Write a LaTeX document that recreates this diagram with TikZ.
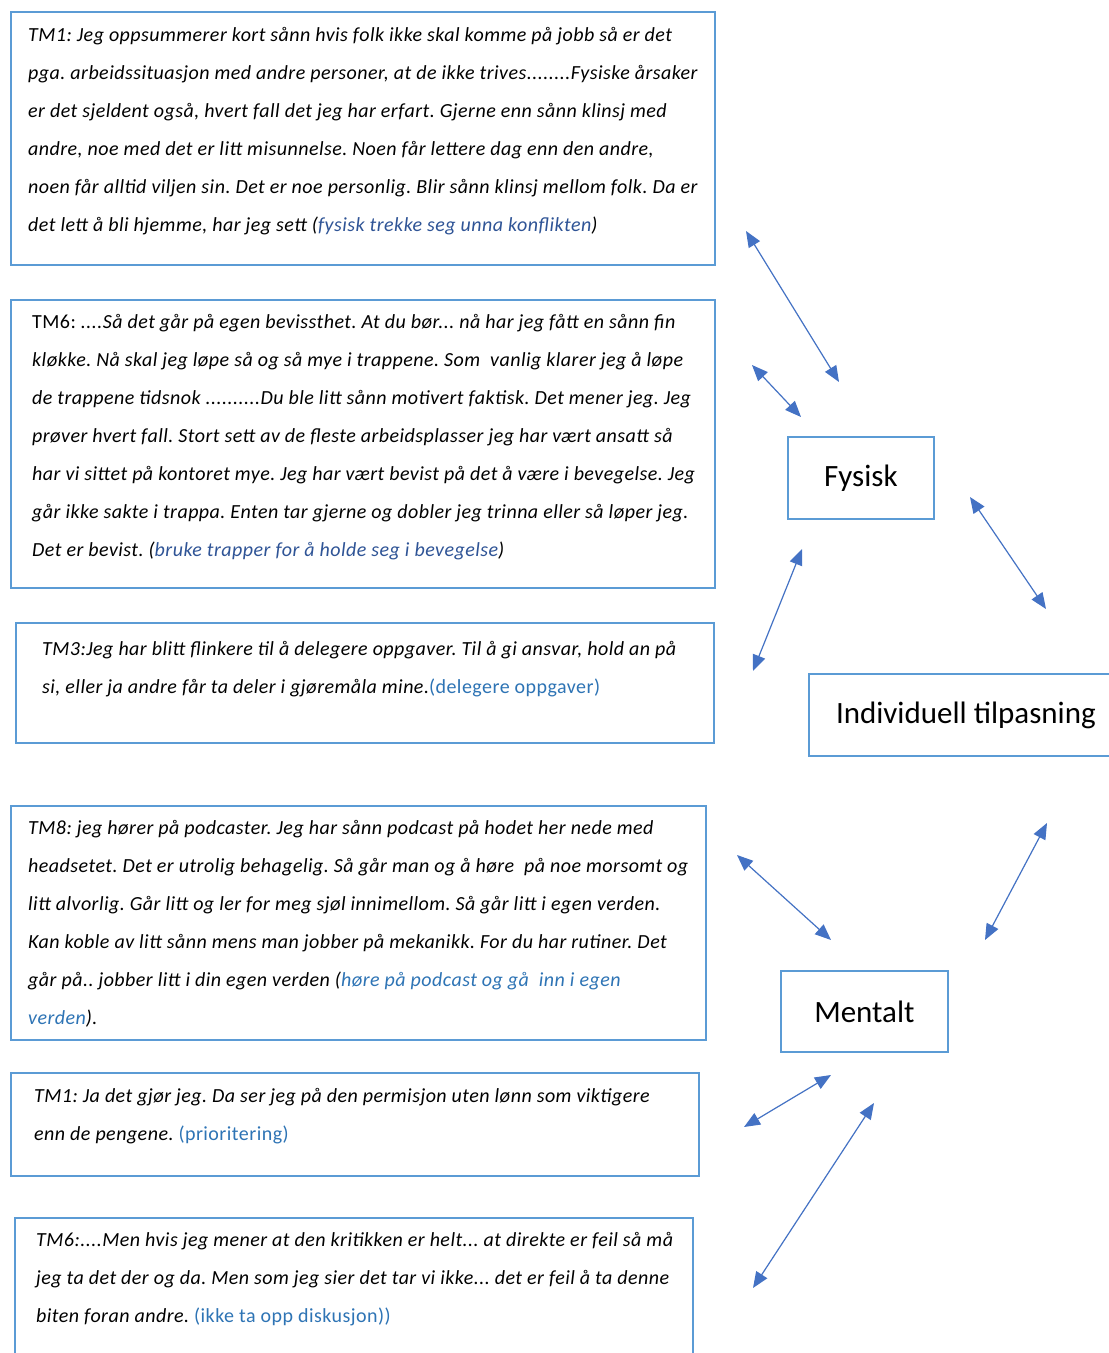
\documentclass[tikz,border=0pt]{standalone}
\usepackage{fontspec}
\setmainfont{Carlito}
\usetikzlibrary{arrows.meta}
\definecolor{boxblue}{RGB}{91,155,213}
\definecolor{arrblue}{RGB}{68,114,196}
\definecolor{darkblue}{RGB}{47,84,150}
\definecolor{midblue}{RGB}{46,116,181}
\frenchspacing
\newcommand\mylines[1]{\vtop{\baselineskip=38pt\lineskiplimit=-100pt\halign{##\hfil\cr#1\crcr}}}
\newcommand\db[1]{\textcolor{darkblue}{#1}}
\newcommand\mb[1]{\textcolor{midblue}{#1}}
\begin{document}
\begin{tikzpicture}[x=1pt,y=-1pt,
  box/.style={draw=boxblue,line width=1.8pt,inner sep=0pt,anchor=north west},
  body/.style={inner sep=0pt,anchor=base west,font=\fontsize{20}{38}\selectfont\addfontfeature{LetterSpace=2.3}\itshape},
  lbl/.style={font=\fontsize{31}{36}\selectfont},
  dbl/.style={draw=arrblue,line width=1.2pt,{Triangle[length=16pt,width=13pt]}-{Triangle[length=16pt,width=13pt]}}]
\clip (0,0) rectangle (1109,1353);
\fill[white] (0,0) rectangle (1109,1353);

% quote boxes
\node[box,minimum width=704pt,minimum height=253pt] (b1) at (10,11) {};
\node[box,minimum width=704pt,minimum height=288pt] (b2) at (10,299) {};
\node[box,minimum width=698pt,minimum height=120pt] (b3) at (15,622) {};
\node[box,minimum width=695pt,minimum height=234pt] (b4) at (10,805) {};
\node[box,minimum width=688pt,minimum height=103pt] (b5) at (10,1072) {};
\node[box,minimum width=678pt,minimum height=160pt] (b6) at (14,1217) {};

\node[body] (t1) at (28,41) {\mylines{%
TM1: Jeg oppsummerer kort sånn hvis folk ikke skal komme på jobb så er det\cr
pga. arbeidssituasjon med andre personer, at de ikke trives........Fysiske årsaker\cr
er det sjeldent også, hvert fall det jeg har erfart. Gjerne enn sånn klinsj med\cr
andre, noe med det er litt misunnelse. Noen får lettere dag enn den andre,\cr
noen får alltid viljen sin. Det er noe personlig. Blir sånn klinsj mellom folk. Da er\cr
det lett å bli hjemme, har jeg sett (\db{fysisk trekke seg unna konflikten})}};

\node[body] (t2) at (32,328) {\mylines{%
{\upshape TM6: }....Så det går på egen bevissthet. At du bør... nå har jeg fått en sånn fin\cr
kløkke. Nå skal jeg løpe så og så mye i trappene. Som\ \ vanlig klarer jeg å løpe\cr
de trappene tidsnok ..........Du ble litt sånn motivert faktisk. Det mener jeg. Jeg\cr
prøver hvert fall. Stort sett av de fleste arbeidsplasser jeg har vært ansatt så\cr
har vi sittet på kontoret mye. Jeg har vært bevist på det å være i bevegelse. Jeg\cr
går ikke sakte i trappa. Enten tar gjerne og dobler jeg trinna eller så løper jeg.\cr
Det er bevist. (\db{bruke trapper for å holde seg i bevegelse})}};

\node[body] (t3) at (42,655) {\mylines{%
TM3:Jeg har blitt flinkere til å delegere oppgaver. Til å gi ansvar, hold an på\cr
si, eller ja andre får ta deler i gjøremåla mine.\mb{\upshape(delegere oppgaver)}}};

\node[body] (t4) at (28,834) {\mylines{%
TM8: jeg hører på podcaster. Jeg har sånn podcast på hodet her nede med\cr
headsetet. Det er utrolig behagelig. Så går man og å høre\ \ på noe morsomt og\cr
litt alvorlig. Går litt og ler for meg sjøl innimellom. Så går litt i egen verden.\cr
Kan koble av litt sånn mens man jobber på mekanikk. For du har rutiner. Det\cr
går på.. jobber litt i din egen verden (\mb{høre på podcast og gå\ \ inn i egen}\cr
\mb{verden}).}};

\node[body] (t5) at (34,1102) {\mylines{%
TM1: Ja det gjør jeg. Da ser jeg på den permisjon uten lønn som viktigere\cr
enn de pengene. \mb{\upshape(prioritering)}}};

\node[body] (t6) at (36,1246) {\mylines{%
TM6:....Men hvis jeg mener at den kritikken er helt... at direkte er feil så må\cr
jeg ta det der og da. Men som jeg sier det tar vi ikke... det er feil å ta denne\cr
biten foran andre. \mb{\upshape(ikke ta opp diskusjon))}}};

% category boxes
\node[box,lbl,minimum width=146pt,minimum height=82pt] (fys) at (787,436) {Fysisk};
\node[box,lbl,minimum width=314pt,minimum height=82pt] (ind) at (808,673) {Individuell tilpasning};
\node[box,lbl,minimum width=167pt,minimum height=81pt] (men) at (780,970) {Mentalt};

% arrow end points
\coordinate (a1s) at (746,231);  \coordinate (a1e) at (839,382);
\coordinate (a2s) at (752,365);  \coordinate (a2e) at (801,417);
\coordinate (a3s) at (970,497);  \coordinate (a3e) at (1046,609);
\coordinate (a4s) at (802,549);  \coordinate (a4e) at (753,671);
\coordinate (a5s) at (737,855);  \coordinate (a5e) at (831,940);
\coordinate (a6s) at (1047,823); \coordinate (a6e) at (985,940);
\coordinate (a7s) at (831,1075); \coordinate (a7e) at (744,1127);
\coordinate (a8s) at (874,1103); \coordinate (a8e) at (753,1288);

\draw[dbl] (a1s) -- (a1e);
\draw[dbl] (a2s) -- (a2e);
\draw[dbl] (a3s) -- (a3e);
\draw[dbl] (a4s) -- (a4e);
\draw[dbl] (a5s) -- (a5e);
\draw[dbl] (a6s) -- (a6e);
\draw[dbl] (a7s) -- (a7e);
\draw[dbl] (a8s) -- (a8e);
\end{tikzpicture}
\end{document}
